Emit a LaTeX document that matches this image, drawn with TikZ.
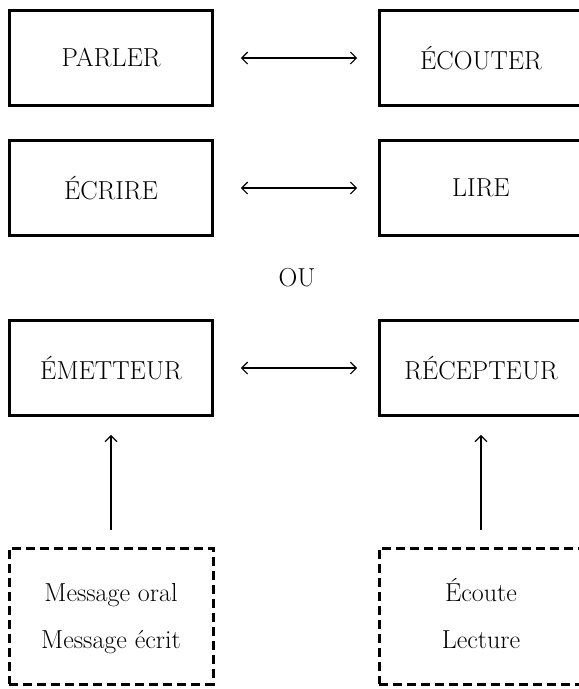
\documentclass[tikz,border=0pt]{standalone}
\usepackage{tikz}
\usetikzlibrary{arrows.meta}
\tikzset{>={Straight Barb[length=6pt,width=12pt]}}

\begin{document}
\begin{tikzpicture}[x=1pt,y=1pt,
  box/.style={draw,line width=2.6pt,minimum width=203pt,minimum height=95pt,
    inner sep=0pt,font=\fontsize{26}{47}\selectfont},
  dashbox/.style={box,line width=3pt,dash pattern=on 9pt off 5pt,
    minimum width=204pt,minimum height=136pt,align=center},
  link/.style={<->,line width=1.2pt,shorten <=27pt,shorten >=21pt},
  up/.style={->,line width=1.2pt,shorten <=17pt,shorten >=18pt}]
\useasboundingbox (0,0) rectangle (579,-689);

% Draw the boxes of the first two rows
\node[box] (parler) at (111,-58) {PARLER};
\node[box] (ecouter) at (481,-58) {ÉCOUTER};
\node[box] (ecrire) at (111,-188) {ÉCRIRE};
\node[box] (lire) at (481,-188) {LIRE};
\draw[link] (parler) -- (ecouter);
\draw[link] (ecrire) -- (lire);

\node[font=\fontsize{26}{30}\selectfont] (ou) at (297,-278) {OU};

% Draw the third row
\node[box] (emetteur) at (111,-368) {ÉMETTEUR};
\node[box] (recepteur) at (481,-368) {RÉCEPTEUR};
\draw[link] (emetteur) -- (recepteur);

% Draw the dashed boxes and the arrows up
\node[dashbox] (message) at (111,-616) {\strut Message oral\\\strut Message écrit};
\node[dashbox] (reception) at (481,-616) {\strut Écoute\\\strut Lecture};
\draw[up] (message) -- (emetteur);
\draw[up] (reception) -- (recepteur);
\end{tikzpicture}
\end{document}
